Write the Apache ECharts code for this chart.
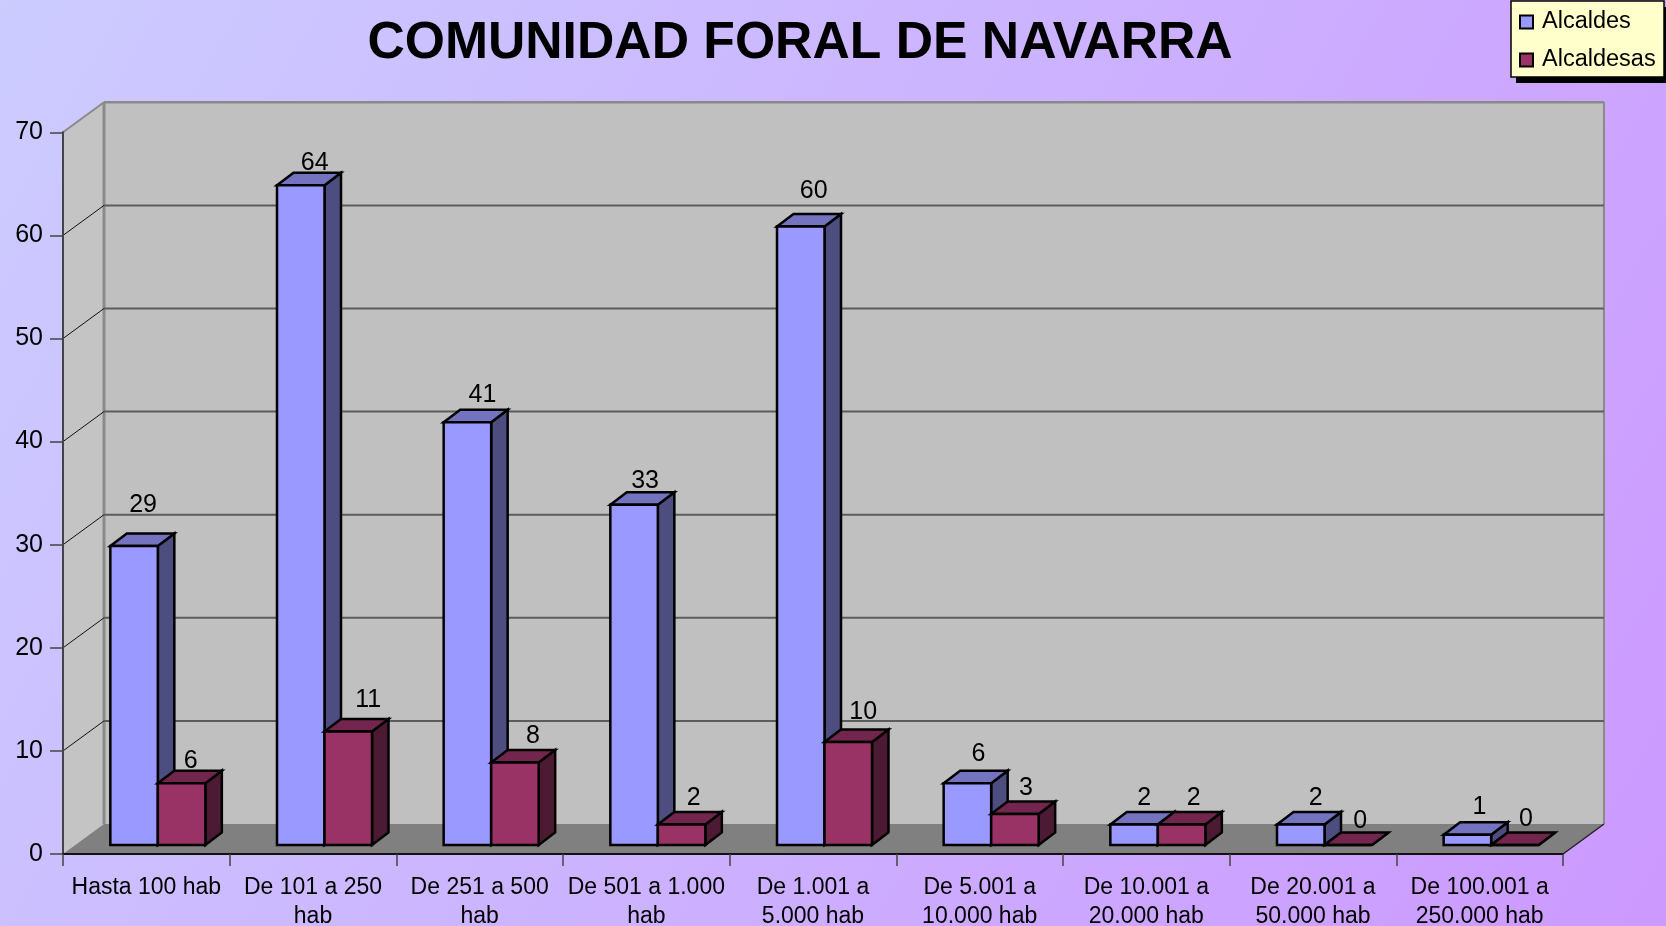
<!DOCTYPE html>
<html>
<head>
<meta charset="utf-8">
<title>Comunidad Foral de Navarra</title>
<style>
  html, body { margin: 0; padding: 0; }
  #main { width: 1666px; height: 926px; }
</style>
<script src="https://cdn.jsdelivr.net/npm/echarts@6/dist/echarts.min.js"></script>
</head>
<body>
<div id="main"></div>
<script>
var categories = [
  'Hasta 100 hab', 'De 101 a 250\nhab', 'De 251 a 500\nhab', 'De 501 a 1.000\nhab',
  'De 1.001 a\n5.000 hab', 'De 5.001 a\n10.000 hab', 'De 10.001 a\n20.000 hab',
  'De 20.001 a\n50.000 hab', 'De 100.001 a\n250.000 hab'
];
var alcaldes = [29, 64, 41, 33, 60, 6, 2, 2, 1];
var alcaldesas = [6, 11, 8, 2, 10, 3, 2, 0, 0];
var yTicks = [0, 10, 20, 30, 40, 50, 60, 70];

// how far each value label floats above its bar (the original is uneven)
var liftAlcaldes = [28, 10, 15, 11, 23, 17, 14, 14, 15];
var liftAlcaldesas = [10, 19, 14, 14, 17, 13, 14, 11, 13];
var nudgeAlcaldes = [0, 5, 6, 2, 4, 2, 1, 6, 3];
var nudgeAlcaldesas = [0, 11, 9, 3, 6, 2, 3, 3, 2];

// fake 3D box
var depthX = 41, depthY = 30;
var barW = 47.5, barDepthX = 16.5, barDepthY = 12.5;
var barBaseUp = 9, barShift = 11.5;

var font = '"Liberation Sans", Arial, sans-serif';

function poly(points, fill, stroke, lineWidth) {
  return {
    type: 'polygon',
    shape: { points: points },
    style: { fill: fill, stroke: stroke || null, lineWidth: lineWidth || 0, lineJoin: 'miter' }
  };
}

function line(x1, y1, x2, y2, color, width) {
  return {
    type: 'line',
    shape: { x1: x1, y1: y1, x2: x2, y2: y2 },
    style: { stroke: color, lineWidth: width }
  };
}

// walls and floor behind the bars
function renderWalls(params, api) {
  var cs = params.coordSys;
  var l = cs.x, r = cs.x + cs.width, t = cs.y, b = cs.y + cs.height;
  var dx = depthX, dy = depthY;
  return {
    type: 'group',
    children: [
      poly([[l + dx, t - dy], [r + dx, t - dy], [r + dx, b - dy], [l + dx, b - dy]], '#c0c0c0'),
      poly([[l, t], [l + dx, t - dy], [l + dx, b - dy], [l, b]], '#c4c4c4'),
      poly([[l, b], [l + dx, b - dy], [r + dx, b - dy], [r, b]], '#808080'),
      line(l, t, l + dx, t - dy, '#8a8a8a', 2),
      line(l + dx, t - dy, r + dx, t - dy, '#8a8a8a', 2.5),
      line(l + dx, t - dy, l + dx, b - dy, '#8a8a8a', 3),
      line(r + dx, t - dy, r + dx, b - dy, '#8a8a8a', 2),
      line(r, b, r + dx, b - dy, '#222', 1.5)
    ]
  };
}

function renderGrid(params, api) {
  var cs = params.coordSys;
  var v = api.value(0);
  if (v === 0 || v === 70) return null;
  var y = api.coord([0, v])[1];
  return {
    type: 'group',
    children: [
      line(cs.x, y, cs.x + depthX, y - depthY, '#111', 1),
      line(cs.x + depthX, y - depthY, cs.x + cs.width + depthX, y - depthY, '#5c5c5c', 2)
    ]
  };
}

function barRenderer(side, front, top, dark, lifts, nudges) {
  return function (params, api) {
    var i = api.value(0);
    var v = api.value(1);
    var center = api.coord([i, 0])[0] + barShift;
    var x1 = side === 0 ? center - barW : center;
    var x2 = x1 + barW;
    var yBase = api.coord([i, 0])[1] - barBaseUp;
    var yTop = api.coord([i, v])[1] - barBaseUp;
    var ddx = barDepthX, ddy = barDepthY;
    return {
      type: 'group',
      children: [
        poly([[x2, yBase], [x2 + ddx, yBase - ddy], [x2 + ddx, yTop - ddy], [x2, yTop]], dark, '#000', 2.5),
        poly([[x1, yTop], [x1 + ddx, yTop - ddy], [x2 + ddx, yTop - ddy], [x2, yTop]], top, '#000', 2.5),
        poly([[x1, yBase], [x2, yBase], [x2, yTop], [x1, yTop]], front, '#000', 2.5),
        {
          type: 'text',
          style: {
            text: String(v),
            x: (x1 + x2) / 2 + 9 + nudges[params.dataIndex],
            y: yTop - ddy - lifts[params.dataIndex],
            align: 'center',
            verticalAlign: 'middle',
            font: '25px ' + font,
            fill: '#000'
          }
        }
      ]
    };
  };
}

function pairs(values) {
  return values.map(function (v, i) { return [i, v]; });
}

var chart = echarts.init(document.getElementById('main'));

chart.setOption({
  animation: false,
  backgroundColor: new echarts.graphic.LinearGradient(0, 0, 1, 1, [
    { offset: 0, color: '#ccccff' },
    { offset: 1, color: '#cc99ff' }
  ]),
  textStyle: { fontFamily: font },
  // legend box and its hard shadow, the legend itself sits on top
  graphic: [
    { type: 'rect', shape: { x: 1516, y: 7, width: 153, height: 76 }, style: { fill: '#000' }, silent: true },
    { type: 'rect', shape: { x: 1511, y: 1, width: 153, height: 76 }, style: { fill: '#ffffcc', stroke: '#000', lineWidth: 1.5 }, silent: true }
  ],
  title: {
    text: 'COMUNIDAD FORAL DE NAVARRA',
    left: 795,
    top: 13,
    textAlign: 'center',
    textStyle: { fontSize: 51.7, fontWeight: 'bold', color: '#000', fontFamily: font }
  },
  legend: {
    orient: 'vertical',
    left: 1511,
    top: 2,
    data: ['Alcaldes', 'Alcaldesas'],
    icon: 'rect',
    itemWidth: 13,
    itemHeight: 13,
    itemGap: 14,
    padding: [8, 8, 8, 8],
    itemStyle: { borderColor: '#000', borderWidth: 2 },
    textStyle: { fontSize: 23.5, color: '#000', padding: [0, 0, 0, 4], fontFamily: font }
  },
  grid: { left: 63, right: 103, top: 132.3, bottom: 72, outerBoundsMode: 'none' },
  xAxis: {
    type: 'category',
    data: categories,
    z: 3,
    axisLine: { lineStyle: { color: '#111', width: 2 } },
    axisTick: { show: true, length: 12, lineStyle: { color: '#444', width: 1.5 } },
    axisLabel: { interval: 0, fontSize: 23, lineHeight: 29, margin: 19, color: '#000', fontFamily: font }
  },
  yAxis: {
    type: 'value',
    min: 0,
    max: 70,
    interval: 10,
    z: 3,
    axisLine: { show: true, lineStyle: { color: '#444', width: 2 } },
    axisTick: { show: true, length: 13, lineStyle: { color: '#444', width: 1.5 } },
    axisLabel: { fontSize: 25, margin: 20, color: '#000', fontFamily: font },
    splitLine: { show: false }
  },
  series: [
    { type: 'custom', name: 'walls', z: 1, silent: true, data: [0], renderItem: renderWalls },
    { type: 'custom', name: 'grid', z: 2, silent: true, data: yTicks, encode: { y: 0 }, renderItem: renderGrid },
    {
      type: 'custom',
      name: 'Alcaldes',
      z: 4,
      data: pairs(alcaldes),
      itemStyle: { color: '#9999ff' },
      renderItem: barRenderer(0, '#9999ff', '#7373bf', '#4d4d80', liftAlcaldes, nudgeAlcaldes)
    },
    {
      type: 'custom',
      name: 'Alcaldesas',
      z: 5,
      data: pairs(alcaldesas),
      itemStyle: { color: '#993366' },
      renderItem: barRenderer(1, '#993366', '#73264d', '#4d1a33', liftAlcaldesas, nudgeAlcaldesas)
    }
  ]
});
</script>
</body>
</html>
